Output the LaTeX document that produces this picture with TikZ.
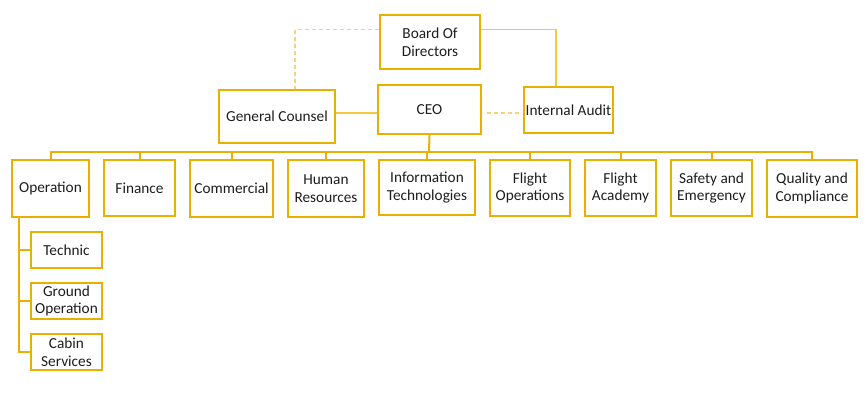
\documentclass[tikz,border=0pt]{standalone}
\usepackage{fontspec}
\setmainfont{Carlito}
\definecolor{gold}{RGB}{232,176,0}
\definecolor{lgold}{RGB}{246,200,60}
\definecolor{dgold}{RGB}{250,210,110}
\definecolor{txt}{RGB}{30,30,30}
\begin{document}
\begin{tikzpicture}[x=1pt,y=-1pt,
  box/.style={draw=gold,line width=2.2pt,fill=white,inner sep=0pt,align=center,text=txt,font=\fontsize{15.3}{17.5}\selectfont},
  bus/.style={draw=gold,line width=2pt},
  thin/.style={draw=lgold,line width=1.2pt},
  dsh/.style={draw=dgold,line width=1.2pt,dash pattern=on 4pt off 3pt}]
\useasboundingbox (0,0) rectangle (867,403);
\newcommand\bx[6]{\node[box,minimum width=#4-#2,minimum height=#5-#3] (#1) at ({(#2+#4)/2},{(#3+#5)/2}) {#6};}
\bx{board}{380}{15}{480}{69}{Board Of\\Directors}
\bx{ceo}{378}{85}{481}{134}{CEO}
\bx{gc}{219}{90}{335}{143}{General Counsel}
\bx{ia}{524}{87}{613}{133}{Internal Audit}
\bx{op}{12}{160}{89}{217}{Operation}
\bx{fin}{104}{160}{175}{216}{Finance}
\bx{com}{190}{160}{273}{217}{Commercial}
\bx{hr}{288}{160}{364}{217}{Human\\Resources}
\bx{it}{379}{160}{475}{215}{Information\\Technologies}
\bx{fo}{490}{160}{570}{216}{Flight\\Operations}
\bx{fa}{585}{160}{656}{216}{Flight\\Academy}
\bx{se}{671}{160}{752}{216}{Safety and\\Emergency}
\bx{qc}{767}{160}{857}{217}{Quality and\\Compliance}
\bx{tech}{31}{232}{102}{268}{Technic}
\bx{go}{31}{283}{102}{319}{Ground\\Operation}
\bx{cab}{31}{334}{102}{370}{Cabin\\Services}
\coordinate (bus) at (429,152);
\coordinate (opv) at (19,217);
\draw[bus] (ceo.south) -- (bus);
\foreach \n in {op,fin,com,hr,it,fo,fa,se,qc} {\draw[bus] (bus) -| (\n.north);}
\foreach \n in {tech,go,cab} {\draw[bus] (opv) |- (\n.west);}
\draw[dsh] ([yshift=-16pt]board.west |- board.north) -| ([xshift=18pt]gc.north);
\draw[thin] ([yshift=-16pt]board.east |- board.north) -| ([xshift=-12.5pt]ia.north);
\draw[thin] ([yshift=3.5pt]gc.east) -- ([yshift=-3.5pt]ceo.west);
\draw[dsh,shorten <=5pt,shorten >=3pt] ([yshift=-3.5pt]ceo.east) -- ([yshift=-3pt]ia.west);
\end{tikzpicture}
\end{document}
